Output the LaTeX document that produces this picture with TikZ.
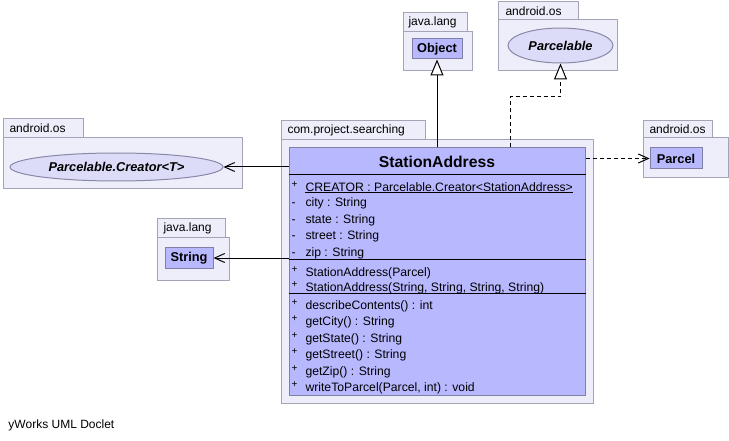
\documentclass[tikz,border=0pt]{standalone}
\usepackage{fontspec}
\setmainfont{Liberation Sans}
\usetikzlibrary{arrows.meta, shapes.geometric}
\definecolor{pkgfill}{HTML}{EEEEFB}
\definecolor{pkgline}{HTML}{A4A4B8}
\definecolor{clsfill}{HTML}{B8B8FF}
\definecolor{clsline}{HTML}{8080A4}
\definecolor{iffill}{HTML}{DCDCF8}
\definecolor{ifline}{HTML}{8888A8}
\tikzset{every picture/.style = {x=1pt, y=-1pt, line width=1pt}}
\tikzset{pkg/.style = {draw=pkgline, fill=pkgfill}}
\tikzset{pkgname/.style = {anchor=west, inner sep=0, font=\fontsize{12}{14}\selectfont}}
\tikzset{cls/.style = {draw=clsline, fill=clsfill, inner sep=0, font=\bfseries\fontsize{12.8}{15}\selectfont}}
\tikzset{iface/.style = {ellipse, draw=ifline, fill=iffill, inner sep=0, font=\bfseries\itshape\fontsize{12.8}{15}\selectfont}}
\tikzset{member/.style = {anchor=base west, inner sep=0, font=\fontsize{12.2}{14}\selectfont}}
\tikzset{pub/.style = {anchor=base west, inner sep=0, yshift=4pt, font=\fontsize{10}{11}\selectfont}}
\tikzset{assoc/.style = {-{Straight Barb[length=10pt, width=9pt]}}}
\tikzset{extends/.style = {-{Triangle[open, length=16pt, width=13pt, fill=white]}}}
\tikzset{realizes/.style = {extends, dash pattern=on 4pt off 3pt}}
\tikzset{depends/.style = {assoc, dash pattern=on 4pt off 3pt}}

\begin{document}
\begin{tikzpicture}
  \path[fill=white, use as bounding box] (0, 0) rectangle (729, 441);

  % packages
  \draw[pkg] (3, 119) rectangle (83, 138);
  \draw[pkg] (3, 138) rectangle (242, 189);
  \node[pkgname] (pkgcreator) at (9, 128.5) {android.os};
  \draw[pkg] (157, 219) rectangle (225, 238);
  \draw[pkg] (157, 238) rectangle (229, 280);
  \node[pkgname] (pkgstring) at (163, 228.5) {java.lang};
  \draw[pkg] (403, 13) rectangle (467, 32);
  \draw[pkg] (403, 32) rectangle (472, 71);
  \node[pkgname] (pkgobject) at (408, 22.5) {java.lang};
  \draw[pkg] (498, 2) rectangle (578, 20);
  \draw[pkg] (498, 20) rectangle (617, 71);
  \node[pkgname] (pkgparcelable) at (505, 11) {android.os};
  \draw[pkg] (281, 121) rectangle (425, 140);
  \draw[pkg] (281, 140) rectangle (593, 403);
  \node[pkgname] (pkgsearching) at (287, 130.5) {com.project.searching};
  \draw[pkg] (643, 121) rectangle (712, 138);
  \draw[pkg] (643, 138) rectangle (728, 178);
  \node[pkgname] (pkgparcel) at (649, 129.5) {android.os};

  % types
  \node[iface, minimum width=213pt, minimum height=28pt] (creator) at (116.5, 167) {Parcelable.Creator<T>};
  \node[iface, minimum width=105pt, minimum height=35pt] (parcelable) at (560.5, 45.5) {Parcelable};
  \node[cls, minimum width=50pt, minimum height=20pt] (object) at (437, 49) {Object};
  \node[cls, minimum width=48pt, minimum height=20pt] (string) at (189, 258) {String};
  \node[cls, minimum width=52pt, minimum height=21pt] (parcel) at (676, 158.5) {Parcel};

  % class StationAddress
  \node[cls, minimum width=296pt, minimum height=247pt] (stationaddress) at (437, 271.5) {};
  \node[font=\bfseries\fontsize{15.7}{18}\selectfont, inner sep=0] (title) at (437, 161.5) {StationAddress};
  \draw ([yshift=-27pt]stationaddress.north west) -- ([yshift=-27pt]stationaddress.north east);
  \draw ([yshift=-112pt]stationaddress.north west) -- ([yshift=-112pt]stationaddress.north east);
  \draw ([yshift=-146pt]stationaddress.north west) -- ([yshift=-146pt]stationaddress.north east);

  \node[pub] at (291, 191.3) {+};
  \node[member] (creatorfield) at (305, 191.3) {CREATOR : Parcelable.Creator<StationAddress>};
  \draw ([yshift=-1.5pt]creatorfield.base west) -- ([yshift=-1.5pt]creatorfield.base east);
  \node[member] at (291, 206.8) {-};
  \node[member] (city) at (305, 206.8) {city : String};
  \node[member] at (291, 223.3) {-};
  \node[member] (state) at (305, 223.3) {state : String};
  \node[member] at (291, 239.8) {-};
  \node[member] (street) at (305, 239.8) {street : String};
  \node[member] at (291, 256.3) {-};
  \node[member] (zip) at (305, 256.3) {zip : String};

  \node[pub] at (291, 276.1) {+};
  \node[member] (ctorparcel) at (305, 276.1) {StationAddress(Parcel)};
  \node[pub] at (291, 291.6) {+};
  \node[member] (ctorstrings) at (305, 291.6) {StationAddress(String, String, String, String)};

  \node[pub] at (291, 309.3) {+};
  \node[member] (describe) at (305, 309.3) {describeContents() : int};
  \node[pub] at (291, 325.8) {+};
  \node[member] (getcity) at (305, 325.8) {getCity() : String};
  \node[pub] at (291, 342.3) {+};
  \node[member] (getstate) at (305, 342.3) {getState() : String};
  \node[pub] at (291, 358.8) {+};
  \node[member] (getstreet) at (305, 358.8) {getStreet() : String};
  \node[pub] at (291, 375.3) {+};
  \node[member] (getzip) at (305, 375.3) {getZip() : String};
  \node[pub] at (291, 391.8) {+};
  \node[member] (write) at (305, 391.8) {writeToParcel(Parcel, int) : void};

  % relations
  \coordinate (bend) at (510, 97);
  \draw[assoc] (stationaddress.west |- creator) -- (creator.east);
  \draw[assoc] (stationaddress.west |- string) -- (string.east);
  \draw[extends] (object.south |- stationaddress.north) -- (object.south);
  \draw[realizes] (bend |- stationaddress.north) -- (bend) -| (parcelable.south);
  \draw[depends] (stationaddress.east |- parcel) -- (parcel.west);

  \node[pkgname] (doclet) at (8, 425) {yWorks UML Doclet};
\end{tikzpicture}
\end{document}
